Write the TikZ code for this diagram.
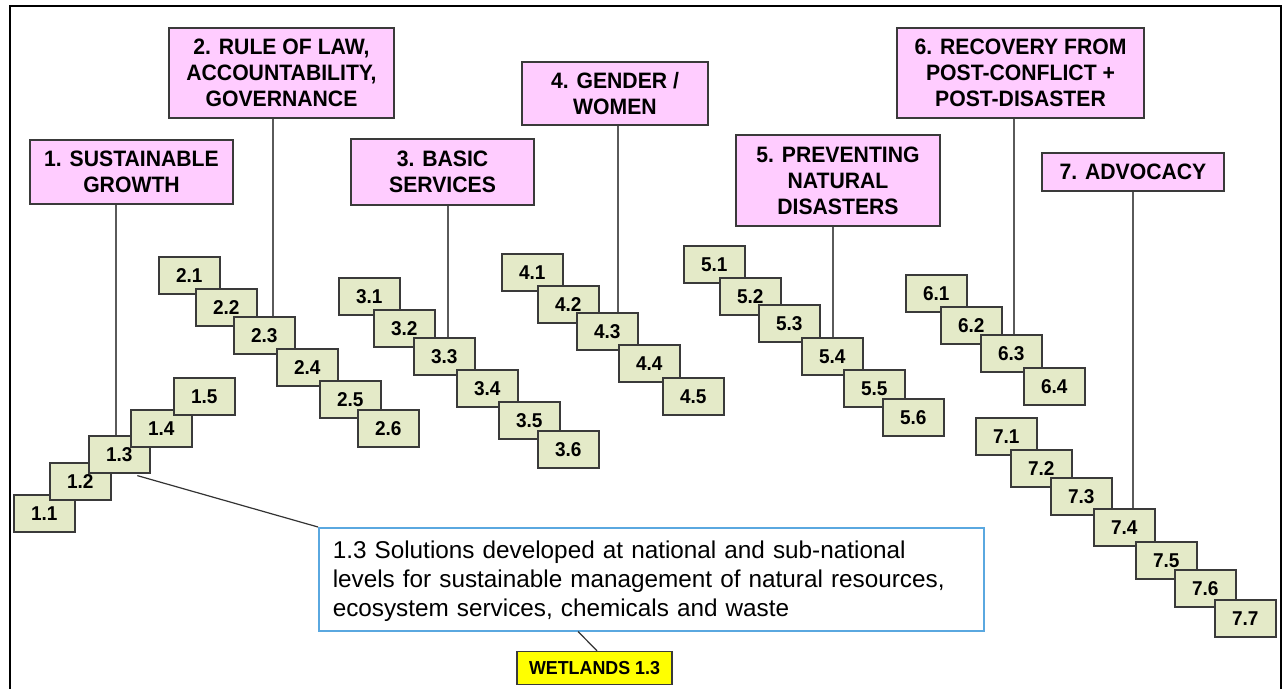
\documentclass[tikz,border=0pt]{standalone}
\usepackage{fontspec}
\setmainfont{Liberation Sans}
\newfontfamily\narrowsans{Liberation Sans}[FakeStretch=0.95]
\usetikzlibrary{calc}
\definecolor{catpink}{HTML}{FFCCFF}
\definecolor{subgreen}{HTML}{E4EAC8}
\definecolor{boxline}{HTML}{3A3A3A}
\definecolor{linkgray}{HTML}{5A5A5A}
\definecolor{descblue}{HTML}{5AA8E0}
\definecolor{wetyellow}{HTML}{FFFF00}
\begin{document}
\begin{tikzpicture}[x=1pt,y=-1pt,
  cat/.style={draw=boxline, line width=1.6pt, fill=catpink, align=center,
    font=\narrowsans\fontsize{22.3}{26}\selectfont\bfseries, inner sep=0pt},
  sub/.style={draw=boxline, line width=1.6pt, fill=subgreen, anchor=north west,
    minimum width=61pt, minimum height=37pt, inner sep=0pt,
    font=\narrowsans\fontsize{20}{22}\selectfont\bfseries},
  link/.style={draw=linkgray, line width=1.4pt},
  desc/.style={draw=descblue, line width=1.5pt, fill=white, anchor=north west,
    text width=637pt, inner xsep=14pt, minimum height=103pt, align=left,
    font=\fontsize{24.3}{29}\selectfont},
  wet/.style={draw=boxline, line width=1.4pt, fill=wetyellow, minimum width=155pt,
    minimum height=33pt, inner sep=0pt, font=\narrowsans\fontsize{18.8}{19}\selectfont\bfseries}]
\useasboundingbox (0,0) rectangle (1287,688);
\fill[white] (0,0) rectangle (1287,688);
% outer frame
\draw[line width=2pt, black] (10,690) -- (10,6) -- (1281,6) -- (1281,690);

% category boxes
\node[cat, minimum width=203pt, minimum height=64pt] (c1) at (131.5,172) {1. SUSTAINABLE\\GROWTH};
\node[cat, minimum width=225pt, minimum height=90pt] (c2) at (281.5,73) {2. RULE OF LAW,\\ACCOUNTABILITY,\\GOVERNANCE};
\node[cat, minimum width=183pt, minimum height=66pt] (c3) at (442.5,172) {3. BASIC\\SERVICES};
\node[cat, minimum width=186pt, minimum height=63pt] (c4) at (615,93.5) {4. GENDER /\\WOMEN};
\node[cat, minimum width=204pt, minimum height=91pt] (c5) at (838,180.5) {5. PREVENTING\\NATURAL\\DISASTERS};
\node[cat, minimum width=247pt, minimum height=90pt] (c6) at (1020.5,73) {6. RECOVERY FROM\\POST-CONFLICT +\\POST-DISASTER};
\node[cat, minimum width=182pt, minimum height=38pt] (c7) at (1133,172) {7. ADVOCACY};

% sub boxes
\node[sub] (b11) at (13,494) {1.1};
\node[sub] (b12) at (49,462) {1.2};
\node[sub] (b13) at (88,435) {1.3};
\node[sub] (b14) at (130,409) {1.4};
\node[sub] (b15) at (173,377) {1.5};

\node[sub] (b21) at (158,256) {2.1};
\node[sub] (b22) at (195,288) {2.2};
\node[sub] (b23) at (233,316) {2.3};
\node[sub] (b24) at (276,348) {2.4};
\node[sub] (b25) at (319,380) {2.5};
\node[sub] (b26) at (357,409) {2.6};

\node[sub] (b31) at (338,277) {3.1};
\node[sub] (b32) at (373,309) {3.2};
\node[sub] (b33) at (413,337) {3.3};
\node[sub] (b34) at (456,369) {3.4};
\node[sub] (b35) at (498,401) {3.5};
\node[sub] (b36) at (537,430) {3.6};

\node[sub] (b41) at (501,253) {4.1};
\node[sub] (b42) at (537,285) {4.2};
\node[sub] (b43) at (576,312) {4.3};
\node[sub] (b44) at (618,344) {4.4};
\node[sub] (b45) at (662,377) {4.5};

\node[sub] (b51) at (683,245) {5.1};
\node[sub] (b52) at (719,277) {5.2};
\node[sub] (b53) at (758,304) {5.3};
\node[sub] (b54) at (801,337) {5.4};
\node[sub] (b55) at (843,369) {5.5};
\node[sub] (b56) at (882,398) {5.6};

\node[sub] (b61) at (905,274) {6.1};
\node[sub] (b62) at (940,306) {6.2};
\node[sub] (b63) at (980,334) {6.3};
\node[sub] (b64) at (1023,367) {6.4};

\node[sub] (b71) at (975,417) {7.1};
\node[sub] (b72) at (1010,449) {7.2};
\node[sub] (b73) at (1050,477) {7.3};
\node[sub] (b74) at (1093,508) {7.4};
\node[sub] (b75) at (1135,541) {7.5};
\node[sub] (b76) at (1174,569) {7.6};
\node[sub] (b77) at (1214,599) {7.7};

% connectors from categories
\draw[link] (c1.south -| 116,0) -- (b13.north -| 116,0);
\draw[link] (c2.south -| 273,0) -- (b23.north -| 273,0);
\draw[link] (c3.south -| 448,0) -- (b33.north -| 448,0);
\draw[link] (c4.south -| 618,0) -- (b43.north -| 618,0);
\draw[link] (c5.south -| 833,0) -- (b54.north -| 833,0);
\draw[link] (c6.south -| 1014,0) -- (b63.north -| 1014,0);
\draw[link] (c7.south -| 1133,0) -- (b74.north -| 1133,0);

% description
\node[desc] (d) at (318,527) {\rule{0pt}{21pt}\mbox{1.3 Solutions developed at national and sub-national}\\\mbox{levels for sustainable management of natural resources,}\\\mbox{ecosystem services, chemicals and waste}};
\draw[link, line width=1.2pt, draw=black!80] ($(b13.south)+(18,2)$) -- (d.north west);

\node[wet] (w) at (594.5,668) {WETLANDS 1.3};
\draw[link, line width=1.2pt, draw=black!80] (d.south -| 578,0) -- (w.north -| 597,0);
\end{tikzpicture}
\end{document}
